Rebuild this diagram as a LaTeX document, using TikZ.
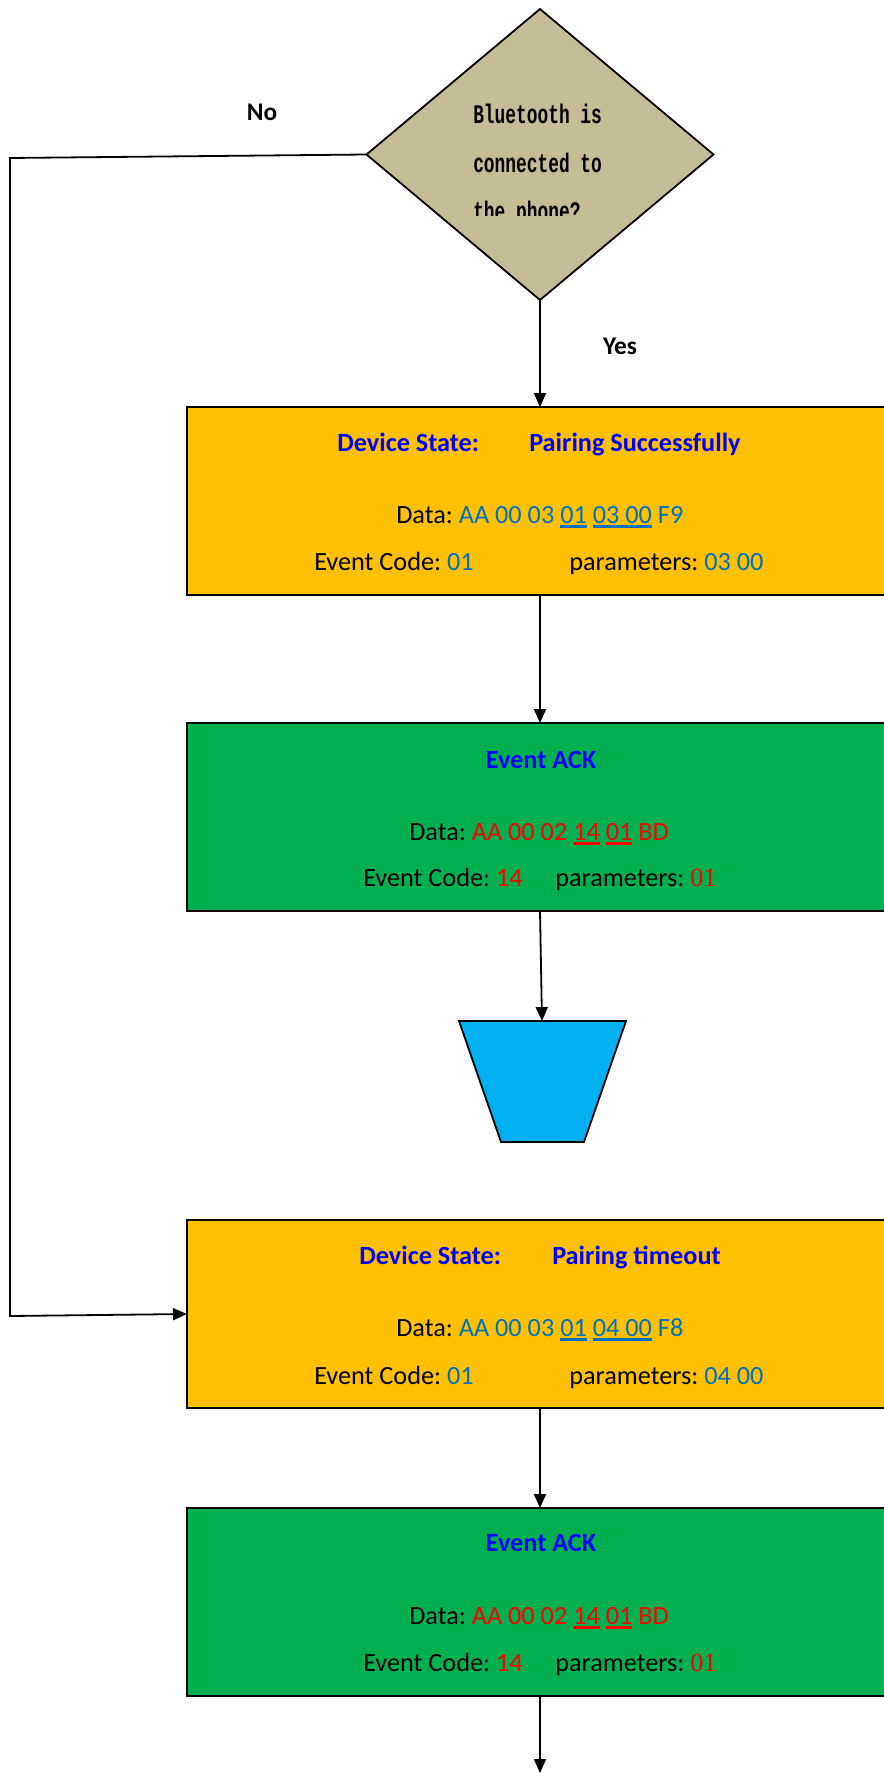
\documentclass[tikz,border=0pt]{standalone}
\usepackage{fontspec}
\setmainfont{Carlito}
\newfontfamily\monof{Liberation Mono}
\newfontfamily\timesf{Liberation Serif}
\usepackage{graphicx}
\usetikzlibrary{arrows.meta,shapes.geometric}
\definecolor{boxorange}{HTML}{FFC000}
\definecolor{boxgreen}{HTML}{00B050}
\definecolor{tanfill}{HTML}{C4BD97}
\definecolor{cyanfill}{HTML}{00B0F0}
\definecolor{titleblue}{HTML}{0000FF}
\definecolor{datablue}{HTML}{0070C0}
\definecolor{datared}{HTML}{FF0000}
\newsavebox\ulbox
\newcommand\dul[1]{\sbox\ulbox{#1}\rlap{\rule[-3.6pt]{\wd\ulbox}{2.2pt}}\usebox\ulbox}
\frenchspacing
\begin{document}
\begin{tikzpicture}[x=0.75pt,y=-0.75pt,
  line/.style={draw=black,line width=1.35pt},
  arr/.style={line,-{Triangle[length=10.5pt,width=9pt]}},
  box/.style={draw=black,line width=1.35pt,minimum width=531pt,minimum height=141pt,inner sep=0pt,outer sep=0pt},
  txt/.style={font=\fontsize{19.7}{23}\selectfont,inner sep=0pt,anchor=base west},
  ttl/.style={txt,font=\fontsize{19.7}{23}\selectfont\bfseries,text=titleblue},
  lbl/.style={font=\fontsize{19}{23}\selectfont\bfseries,inner sep=0pt},
  dtxt/.style={font=\monof\bfseries\fontsize{13.4}{16}\selectfont,inner sep=0pt,anchor=base west}]
\useasboundingbox (0,0) rectangle (884,1773);

% decision
\node[diamond,draw=black,line width=1.35pt,fill=tanfill,minimum width=260.25pt,minimum height=218.25pt,inner sep=0pt,outer sep=0pt] (d) at (540,154.5) {};
\begin{scope}
\clip (360,0) rectangle (720,215);
\node[dtxt] (q1) at (473,124) {\scalebox{1}[1.5]{Bluetooth is}};
\node[dtxt] (q2) at (473,172) {\scalebox{1}[1.5]{connected to}};
\node[dtxt] (q3) at (473,220) {\scalebox{1}[1.5]{the phone?}};
\end{scope}
\node[lbl] (no) at (262,112) {No};
\node[lbl] (yes) at (620,346) {Yes};

% boxes
\node[box,fill=boxorange] (b1) at (541,501) {};
\node[box,fill=boxgreen] (b2) at (541,817) {};
\draw[line,fill=cyanfill] (459,1021) -- (626,1021) -- (584,1142) -- (501,1142) -- cycle;
\coordinate (tz) at (542,1021);
\node[box,fill=boxorange] (b3) at (541,1314) {};
\node[box,fill=boxgreen] (b4) at (541,1602) {};

% box 1 text
\node[ttl] (b1a) at (337,451) {Device State:};
\node[ttl] (b1b) at (529,451) {Pairing Successfully};
\node[txt] (b1c) at (396,523) {Data: \textcolor{datablue}{AA 00 03 \dul{01} \dul{03 00} F9}};
\node[txt] (b1d) at (314,570) {Event Code: \textcolor{datablue}{01}};
\node[txt] (b1e) at (569,570) {parameters: \textcolor{datablue}{03 00}};

% box 2 text
\node[ttl,anchor=base] (b2a) at (541,768) {Event ACK};
\node[txt] (b2c) at (409,840) {Data: \textcolor{datared}{AA 00 02 \dul{14} \dul{01} BD}};
\node[txt] (b2d) at (363,886) {Event Code: \textcolor{datared}{14}};
\node[txt] (b2e) at (555,886) {parameters: \textcolor{datared}{\timesf 01}};

% box 3 text
\node[ttl] (b3a) at (359,1264) {Device State:};
\node[ttl] (b3b) at (552,1264) {Pairing timeout};
\node[txt] (b3c) at (396,1336) {Data: \textcolor{datablue}{AA 00 03 \dul{01} \dul{04 00} F8}};
\node[txt] (b3d) at (314,1384) {Event Code: \textcolor{datablue}{01}};
\node[txt] (b3e) at (569,1384) {parameters: \textcolor{datablue}{04 00}};

% box 4 text
\node[ttl,anchor=base] (b4a) at (541,1551) {Event ACK};
\node[txt] (b4c) at (409,1624) {Data: \textcolor{datared}{AA 00 02 \dul{14} \dul{01} BD}};
\node[txt] (b4d) at (363,1671) {Event Code: \textcolor{datared}{14}};
\node[txt] (b4e) at (555,1671) {parameters: \textcolor{datared}{\timesf 01}};

% connectors
\coordinate (c1) at (10,158);
\coordinate (c2) at (10,1316);
\coordinate (endpt) at (541,1773);
\draw[arr] (d.south) -- (d.south |- b1.north);
\draw[arr] (b1.south -| d.south) -- (d.south |- b2.north);
\draw[arr] (b2.south -| d.south) -- (tz);
\draw[arr] (b3.south -| d.south) -- (d.south |- b4.north);
\draw[arr] (b4.south -| d.south) -- (d.south |- endpt);
\draw[arr] (d.west) -- (c1) -- (c2) -- (b3.west);
\end{tikzpicture}
\end{document}
